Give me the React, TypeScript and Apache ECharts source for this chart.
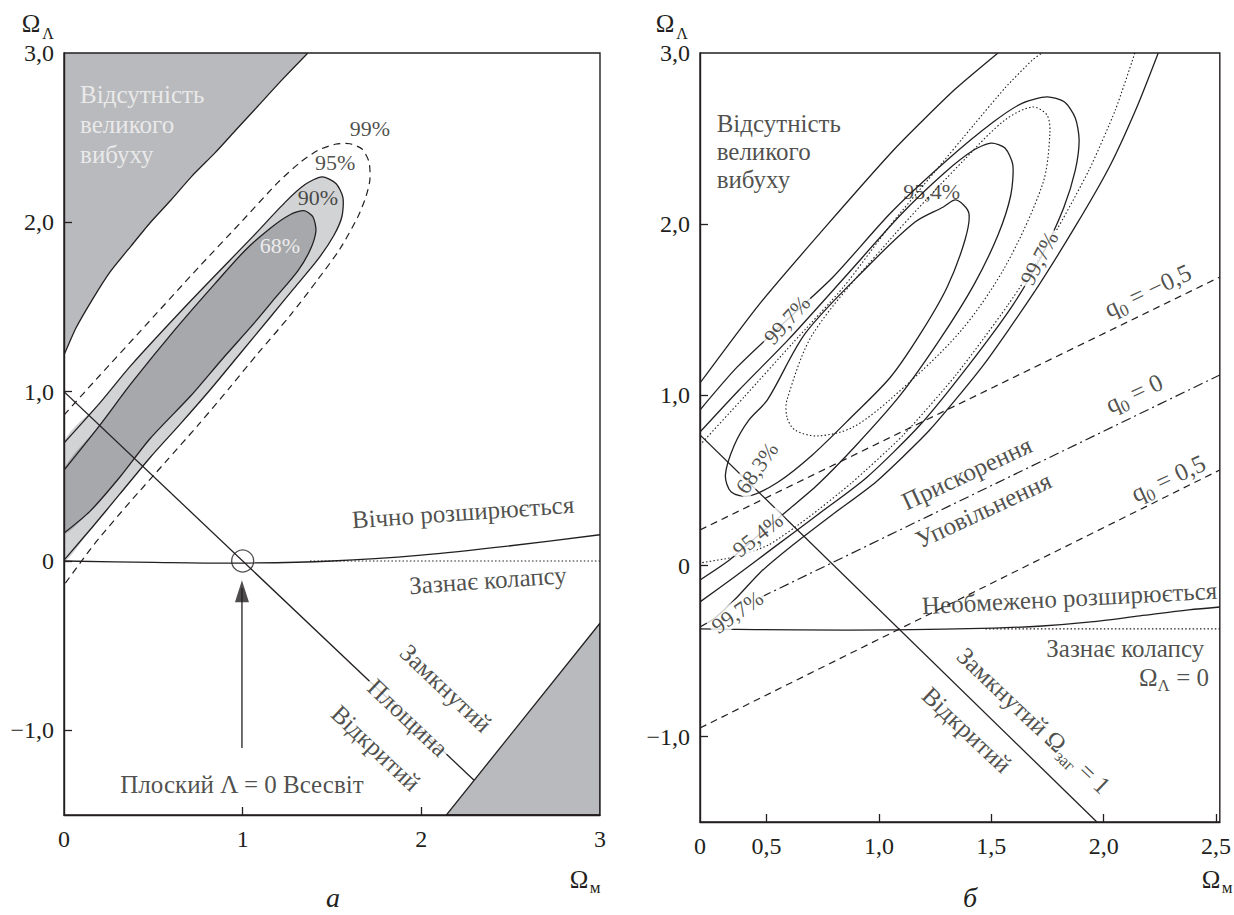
import React, { useEffect, useRef } from "react";
import * as echarts from "echarts";

const FONT = "serif";
const INK = "#231f20";
const GRAY = "#b9babd";
const LIGHT = "#d2d3d5";
const DARK = "#a7a8ab";

// ---------------- Panel а ----------------
const A_X_TICKS = [0, 1, 2, 3];
const Y_TICK_LABELS = [-1, 0, 1, 2, 3];
const Y_TICK_MARKS = [-1, 0, 1, 2];

const A_NO_BIG_BANG = [
  [0, 1.216], [0.067, 1.376], [0.157, 1.541], [0.257, 1.706], [0.375, 1.86], [0.481, 1.996],
  [0.599, 2.132], [0.716, 2.273], [0.845, 2.41], [0.962, 2.545], [1.086, 2.687], [1.22, 2.841], [1.365, 3.0],
];
const A_CONTOUR_68 = [
  [0, 0.537], [0.201, 0.803], [0.375, 1.047], [0.621, 1.366], [0.845, 1.638], [1.013, 1.834], [1.153, 1.964],
  [1.265, 2.045], [1.343, 2.069], [1.393, 2.033], [1.41, 1.949], [1.377, 1.835], [1.309, 1.714], [1.181, 1.552],
  [1.063, 1.403], [0.884, 1.19], [0.711, 0.977], [0.481, 0.722], [0.313, 0.496], [0.145, 0.293], [0, 0.165],
];
const A_CONTOUR_90 = [
  [0, 0.697], [0.201, 0.934], [0.375, 1.155], [0.711, 1.538], [1.063, 1.923], [1.237, 2.118], [1.349, 2.223],
  [1.444, 2.269], [1.522, 2.229], [1.561, 2.147], [1.556, 2.036], [1.511, 1.924], [1.421, 1.781], [1.287, 1.61],
  [1.153, 1.438], [0.985, 1.224], [0.817, 1.01], [0.649, 0.807], [0.481, 0.61], [0.313, 0.396], [0.157, 0.198], [0, 0.005],
];
const A_CONTOUR_99 = [
  [0, 0.862], [0.201, 1.097], [0.42, 1.349], [0.755, 1.736], [0.985, 1.994], [1.198, 2.236], [1.321, 2.353],
  [1.421, 2.425], [1.517, 2.461], [1.6, 2.464], [1.668, 2.433], [1.707, 2.357], [1.712, 2.251], [1.69, 2.152],
  [1.645, 2.033], [1.545, 1.844], [1.421, 1.663], [1.265, 1.449], [1.086, 1.227], [0.929, 1.026], [0.755, 0.808],
  [0.565, 0.581], [0.369, 0.348], [0.173, 0.104], [0, -0.142],
];
const A_NO_SOLUTION = [[2.14, -1.5], [3, -1.5], [3, -0.367]];
const A_FLAT = [[0, 1], [2.295, -1.295]];
const A_EXPANDS = [[0, 0], [0.5, -0.008], [1, -0.012], [1.5, 0], [2, 0.035], [2.5, 0.09], [3, 0.155]];
const A_RECOLLAPSE = [[1.377, 0], [3, 0]];
const A_FLAT_LAMBDA0 = [[1, 0]];
const A_ARROW_SHAFT = [[0.996, -1.105], [0.996, -0.16]];
const A_ARROW_TIP = [[0.996, -0.113]];

// ---------------- Panel б ----------------
const B_X_TICK_LABELS = [0.204, 0.5, 1, 1.5, 2, 2.5];
const B_X_TICK_MARKS = [0.5, 1, 1.5, 2, 2.5];

const B_OUT_UPPER = [[0.204, 1.069], [0.465, 1.525], [0.77, 1.994], [1.074, 2.444], [1.335, 2.783], [1.53, 3.0]];
const B_OUT_LOWER = [
  [2.243, 3.0], [2.152, 2.696], [2.03, 2.345], [1.878, 1.994], [1.683, 1.584], [1.465, 1.174], [1.226, 0.794],
  [0.987, 0.49], [0.791, 0.297], [0.617, 0.121], [0.474, -0.037], [0.37, -0.183], [0.27, -0.306], [0.204, -0.359],
];
const B_S3 = [
  [0.204, 0.911], [0.37, 1.163], [0.591, 1.438], [0.796, 1.689], [1.052, 2.064], [1.304, 2.374], [1.509, 2.596],
  [1.639, 2.707], [1.748, 2.743], [1.826, 2.713], [1.874, 2.62], [1.891, 2.491], [1.874, 2.315], [1.822, 2.093],
  [1.726, 1.818], [1.596, 1.525], [1.4, 1.174], [1.183, 0.823], [0.943, 0.513], [0.726, 0.297], [0.53, 0.104],
  [0.357, -0.066], [0.204, -0.212],
];
const B_S2 = [
  [0.204, 0.782], [0.378, 1.028], [0.596, 1.321], [0.857, 1.701], [1.096, 2.052], [1.291, 2.298], [1.422, 2.432],
  [1.5, 2.473], [1.561, 2.444], [1.596, 2.345], [1.587, 2.169], [1.53, 1.935], [1.422, 1.642], [1.27, 1.321],
  [1.096, 0.999], [0.9, 0.706], [0.726, 0.472], [0.596, 0.326], [0.465, 0.18], [0.335, 0.033], [0.204, -0.084],
];
const B_S1 = [
  [1.343, 2.14], [1.4, 2.064], [1.383, 1.906], [1.304, 1.631], [1.187, 1.362], [1.052, 1.104], [0.878, 0.87],
  [0.704, 0.648], [0.552, 0.49], [0.422, 0.408], [0.343, 0.431], [0.317, 0.531], [0.357, 0.706], [0.422, 0.853],
  [0.504, 0.97], [0.674, 1.362], [0.948, 1.748], [1.161, 2.011], [1.287, 2.099],
];
const B_D1 = [
  [0.591, 0.87], [0.591, 0.97], [0.709, 1.362], [1.048, 1.906], [1.391, 2.391], [1.561, 2.608], [1.683, 2.684],
  [1.748, 2.637], [1.761, 2.532], [1.73, 2.239], [1.561, 1.748], [1.357, 1.362], [1.048, 0.97], [0.878, 0.806],
  [0.726, 0.759], [0.626, 0.794],
];
const B_D2_UPPER = [
  [0.204, 0.706], [0.4, 0.987], [0.617, 1.303], [0.843, 1.631], [1.052, 1.994], [1.248, 2.304], [1.422, 2.579],
  [1.561, 2.795], [1.683, 2.959], [1.726, 3.0],
];
const B_D2_LOWER = [
  [2.139, 3.0], [2.052, 2.666], [1.935, 2.315], [1.778, 1.935], [1.574, 1.525], [1.343, 1.116], [1.109, 0.765],
  [0.878, 0.484], [0.683, 0.279], [0.509, 0.121], [0.357, 0.051], [0.204, 0.016],
];
const B_FLAT = [[0.204, 0.765], [1.97, -1.5]];
const B_Q_M05 = [[0.204, 0.209], [2.517, 1.689]];
const B_Q_0 = [[0.478, -0.183], [2.517, 1.116]];
const B_Q_05 = [[0.204, -0.95], [2.517, 0.56]];
const B_EXPANDS = [
  [0.204, -0.37], [0.639, -0.376], [1.074, -0.376], [1.509, -0.365], [1.726, -0.353], [1.943, -0.329],
  [2.161, -0.294], [2.378, -0.259], [2.517, -0.242],
];
const B_RECOLLAPSE = [[1.474, -0.37], [2.517, -0.37]];

// ---------------- Annotations (anchored in data space) ----------------
const A_NOTES = [
  { t: "Відсутність", x: 0.09, y: 2.752, align: "left", c: "#f7f7f7" },
  { t: "великого", x: 0.09, y: 2.575, align: "left", c: "#f7f7f7" },
  { t: "вибуху", x: 0.09, y: 2.398, align: "left", c: "#f7f7f7" },
  { t: "99%", x: 1.712, y: 2.557, fs: 22 },
  { t: "95%", x: 1.517, y: 2.356, fs: 22 },
  { t: "90%", x: 1.421, y: 2.149, fs: 22 },
  { t: "68%", x: 1.209, y: 1.866, fs: 22, c: "#ffffff" },
  { t: "Вічно розширюється", x: 2.233, y: 0.289, r: 4 },
  { t: "Зазнає колапсу", x: 2.373, y: -0.113, r: 4 },
  { t: "Замкнутий", x: 2.138, y: -0.751, r: -43.4 },
  { t: "Площина", x: 1.925, y: -0.925, r: -43.4, bg: true },
  { t: "Відкритий", x: 1.746, y: -1.105, r: -43.4 },
  { t: "Плоский Λ = 0 Всесвіт", x: 0.996, y: -1.318 },
];
const B_NOTES = [
  { t: "Відсутність", x: 0.278, y: 2.59, align: "left" },
  { t: "великого", x: 0.278, y: 2.421, align: "left" },
  { t: "вибуху", x: 0.278, y: 2.257, align: "left" },
  { t: "99,7%", x: 0.591, y: 1.438, r: 48, fs: 22, bg: true },
  { t: "95,4%", x: 1.235, y: 2.187, fs: 22 },
  { t: "99,7%", x: 1.713, y: 1.8, r: 62, fs: 22, bg: true },
  { t: "68,3%", x: 0.457, y: 0.572, r: 55, fs: 22, bg: true },
  { t: "95,4%", x: 0.461, y: 0.18, r: 38, fs: 22, bg: true },
  { t: "99,7%", x: 0.37, y: -0.271, r: 35, fs: 22, bg: true },
  { t: "{m|q}{s|0}{m| = −0,5}", x: 2.2, y: 1.6, r: 25 },
  { t: "{m|q}{s|0}{m| = 0}", x: 2.139, y: 0.999, r: 25 },
  { t: "{m|q}{s|0}{m| = 0,5}", x: 2.291, y: 0.502, r: 25 },
  { t: "Прискорення", x: 1.391, y: 0.542, r: 25 },
  { t: "Уповільнення", x: 1.465, y: 0.326, r: 25 },
  { t: "Необмежено розширюється", x: 1.848, y: -0.189, r: 3 },
  { t: "Зазнає колапсу", x: 2.096, y: -0.482 },
  { t: "{m|Ω}{s|Λ}{m| = 0}", x: 2.313, y: -0.669 },
  { t: "{m|Замкнутий Ω}{s|заг}{m| = 1}", x: 1.683, y: -0.915, r: -43.4 },
  { t: "Відкритий", x: 1.391, y: -0.961, r: -43.4 },
];

const NOTE_SIZE = 25;
const RICH = {
  m: { fontSize: NOTE_SIZE, fontFamily: FONT, color: INK, verticalAlign: "top" },
  s: { fontSize: 17, fontFamily: FONT, color: INK, verticalAlign: "bottom", padding: [12, 0, 0, 0] },
};

function fmtY(v: number) {
  if (Math.abs(v) < 1e-9) return "0";
  return (v < 0 ? "−" : "") + Math.abs(v).toFixed(1).replace(".", ",");
}

function shape(grid: number, pts: number[][], style: any, kind = "polyline", smooth = 0, z = 3) {
  return {
    type: "custom",
    coordinateSystem: "cartesian2d",
    xAxisIndex: grid,
    yAxisIndex: grid,
    clip: true,
    silent: true,
    z,
    data: pts,
    encode: { x: 0, y: 1 },
    renderItem: (params: any, api: any) => {
      if (params.dataIndex !== 0) return null;
      return {
        type: kind,
        shape: { points: pts.map((p) => api.coord(p)), smooth },
        style: { fill: "none", stroke: "none", lineWidth: 1.3, ...style },
      };
    },
  };
}

function notes(grid: number, list: any[]) {
  return {
    type: "scatter",
    xAxisIndex: grid,
    yAxisIndex: grid,
    symbolSize: 1,
    silent: true,
    z: 10,
    itemStyle: { color: "rgba(0,0,0,0)" },
    data: list.map((n) => ({
      value: [n.x, n.y],
      label: {
        show: true,
        position: "inside",
        formatter: n.t,
        rotate: n.r || 0,
        align: n.align || "center",
        verticalAlign: "middle",
        color: n.c || INK,
        fontSize: n.fs || NOTE_SIZE,
        fontFamily: FONT,
        backgroundColor: n.bg ? "#ffffff" : "transparent",
        padding: n.bg ? [0, 3] : 0,
        rich: RICH,
      },
    })),
  };
}

const solid = { stroke: INK, lineWidth: 1.3 };
const dashed = { stroke: INK, lineWidth: 1.2, lineDash: [7, 5] };
const dotted = { stroke: INK, lineWidth: 1.1, lineDash: [1.5, 2.2] };
const dashDot = { stroke: INK, lineWidth: 1.2, lineDash: [10, 4, 2, 4] };

const tickStyle = { color: INK, width: 1.3 };
const labelBase = { color: INK, fontFamily: FONT, fontSize: 24 };

function axisY(grid: number) {
  return {
    type: "value",
    gridIndex: grid,
    min: -1.5,
    max: 3,
    z: 20,
    axisLine: { show: true, onZero: false, lineStyle: { color: INK, width: 1.4 } },
    axisTick: { show: true, inside: true, length: 8, customValues: Y_TICK_MARKS, lineStyle: tickStyle },
    splitLine: { show: false },
    axisLabel: { ...labelBase, margin: 10, customValues: Y_TICK_LABELS, formatter: (v: number) => fmtY(v) },
  };
}

function gtext(text: string, x: number, y: number, size: number, italic = false) {
  return {
    type: "text",
    x,
    y,
    style: {
      text,
      fill: INK,
      font: `${italic ? "italic " : ""}${size}px ${FONT}`,
      fontFamily: FONT,
      fontSize: size,
      fontStyle: italic ? "italic" : "normal",
      align: "center",
      verticalAlign: "middle",
      textAlign: "center",
      textVerticalAlign: "middle",
    },
  };
}

const option: any = {
  animation: false,
  backgroundColor: "#ffffff",
  textStyle: { fontFamily: FONT },
  grid: [
    { left: 64, top: 53, width: 536, height: 762, show: true, borderColor: INK, borderWidth: 1.4, z: 20 },
    { left: 700, top: 53, width: 532, height: 769, show: true, borderColor: INK, borderWidth: 1.4, z: 20 },
  ],
  xAxis: [
    {
      type: "value",
      gridIndex: 0,
      min: 0,
      max: 3,
      interval: 1,
      z: 20,
      axisLine: { show: true, onZero: false, lineStyle: { color: INK, width: 1.4 } },
      axisTick: { show: true, inside: true, length: 8, customValues: [1, 2], lineStyle: tickStyle },
      splitLine: { show: false },
      axisLabel: { ...labelBase, margin: 12, customValues: A_X_TICKS, formatter: (v: number) => String(v) },
    },
    {
      type: "value",
      gridIndex: 1,
      min: 0.204,
      max: 2.517,
      z: 20,
      axisLine: { show: true, onZero: false, lineStyle: { color: INK, width: 1.4 } },
      axisTick: { show: true, inside: true, length: 8, customValues: B_X_TICK_MARKS, lineStyle: tickStyle },
      splitLine: { show: false },
      axisLabel: {
        ...labelBase,
        margin: 12,
        customValues: B_X_TICK_LABELS,
        formatter: (v: number) => (v < 0.3 ? "0" : v.toFixed(1).replace(".", ",")),
      },
    },
  ],
  yAxis: [axisY(0), axisY(1)],
  graphic: [
    gtext("Ω", 31, 23, 25),
    gtext("Λ", 48, 33, 16),
    gtext("Ω", 665, 23, 25),
    gtext("Λ", 682, 33, 16),
    gtext("Ω", 579, 879, 25),
    gtext("м", 595, 887, 17),
    gtext("Ω", 1211, 879, 25),
    gtext("м", 1227, 887, 17),
    gtext("а", 333, 897, 28, true),
    gtext("б", 970, 897, 28, true),
  ],
  series: [
    // ----- panel а -----
    shape(0, [[0, 3], ...A_NO_BIG_BANG.slice().reverse()], { fill: GRAY }, "polygon", 0, 1),
    shape(0, A_NO_BIG_BANG, solid, "polyline", 0.2, 3),
    shape(0, A_NO_SOLUTION, { fill: GRAY, stroke: INK, lineWidth: 1.3 }, "polygon", 0, 1),
    shape(0, A_CONTOUR_90, { fill: LIGHT }, "polygon", 0.25, 1),
    shape(0, A_CONTOUR_68, { fill: DARK }, "polygon", 0.25, 2),
    shape(0, A_CONTOUR_90, solid, "polyline", 0.25, 3),
    shape(0, A_CONTOUR_68, solid, "polyline", 0.25, 3),
    shape(0, A_CONTOUR_99, dashed, "polyline", 0.25, 3),
    shape(0, A_FLAT, solid, "polyline", 0, 3),
    shape(0, A_EXPANDS, solid, "polyline", 0.3, 3),
    shape(0, A_RECOLLAPSE, dotted, "polyline", 0, 3),
    shape(0, A_ARROW_SHAFT, solid, "polyline", 0, 3),
    {
      type: "scatter",
      xAxisIndex: 0,
      yAxisIndex: 0,
      silent: true,
      z: 6,
      symbol: "circle",
      symbolSize: 22,
      itemStyle: { color: "rgba(0,0,0,0)", borderColor: INK, borderWidth: 1.3 },
      data: A_FLAT_LAMBDA0,
    },
    {
      type: "scatter",
      xAxisIndex: 0,
      yAxisIndex: 0,
      silent: true,
      z: 6,
      symbol: "triangle",
      symbolSize: [14, 22],
      symbolOffset: [0, 11],
      itemStyle: { color: INK },
      data: A_ARROW_TIP,
    },
    notes(0, A_NOTES),
    // ----- panel б -----
    shape(1, B_OUT_UPPER, solid, "polyline", 0.2, 3),
    shape(1, B_OUT_LOWER, solid, "polyline", 0.2, 3),
    shape(1, B_S3, solid, "polyline", 0.25, 3),
    shape(1, B_S2, solid, "polyline", 0.25, 3),
    shape(1, B_S1, solid, "polygon", 0.3, 3),
    shape(1, B_D1, dotted, "polygon", 0.3, 3),
    shape(1, B_D2_UPPER, dotted, "polyline", 0.2, 3),
    shape(1, B_D2_LOWER, dotted, "polyline", 0.2, 3),
    shape(1, B_FLAT, solid, "polyline", 0, 3),
    shape(1, B_Q_M05, dashed, "polyline", 0, 3),
    shape(1, B_Q_0, dashDot, "polyline", 0, 3),
    shape(1, B_Q_05, dashed, "polyline", 0, 3),
    shape(1, B_EXPANDS, solid, "polyline", 0.3, 3),
    shape(1, B_RECOLLAPSE, dotted, "polyline", 0, 3),
    notes(1, B_NOTES),
  ],
};

export default function App() {
  const ref = useRef<HTMLDivElement>(null);
  useEffect(() => {
    if (!ref.current) return;
    const chart = echarts.init(ref.current, undefined, { renderer: "svg" });
    chart.setOption(option);
    return () => chart.dispose();
  }, []);
  return (
    <div
      ref={ref}
      style={{ position: "absolute", left: 0, top: 0, width: 1234, height: 915, background: "#ffffff" }}
    />
  );
}
